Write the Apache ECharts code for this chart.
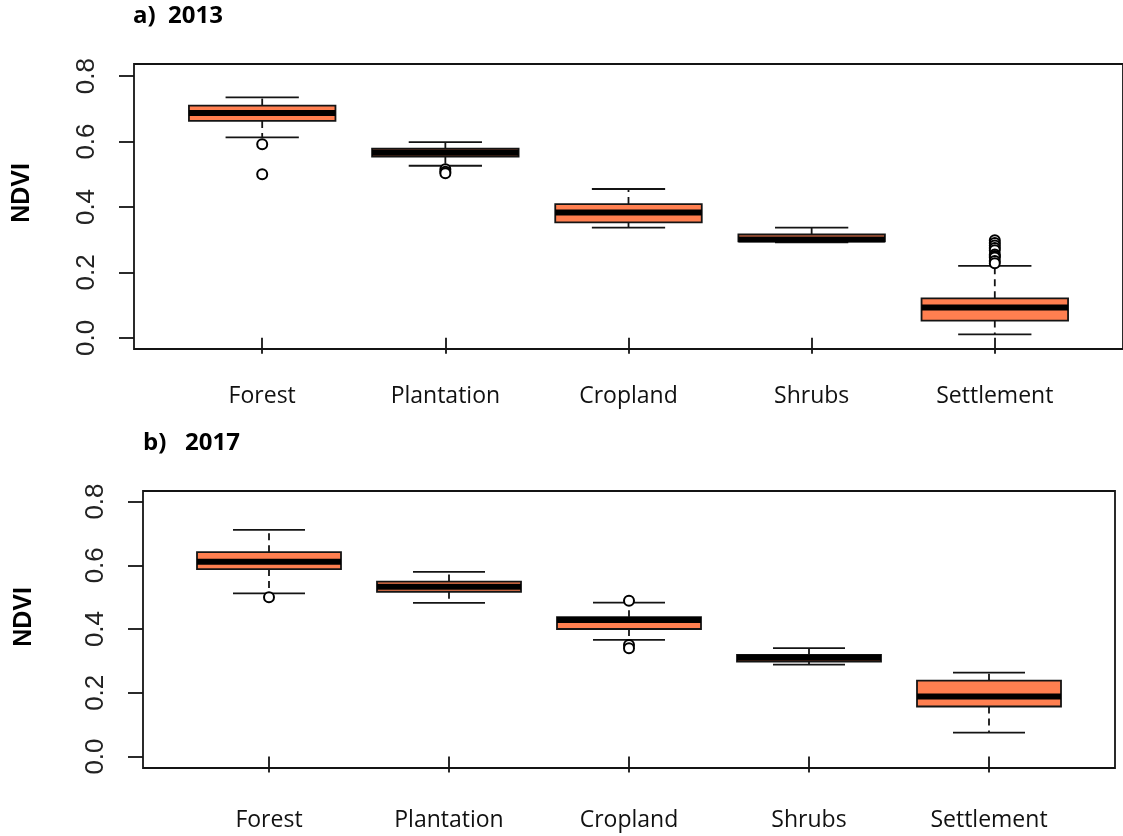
<!DOCTYPE html>
<html>
<head>
<meta charset="utf-8">
<title>NDVI by land cover, 2013 and 2017</title>
<script src="https://cdn.jsdelivr.net/npm/echarts@6/dist/echarts.min.js"></script>
<style>
  html, body { margin: 0; padding: 0; background: #fff; }
  #chart { width: 1123px; height: 836px; }
</style>
</head>
<body>
<div id="chart"></div>
<script>
// Land-cover classes on the x axis
const categories = ['Forest', 'Plantation', 'Cropland', 'Shrubs', 'Settlement'];
const yTicks = [0.0, 0.2, 0.4, 0.6, 0.8];

// 2013 box statistics (lower whisker, Q1, median, Q3, upper whisker)
const low2013 = [0.613, 0.526, 0.337, 0.292, 0.011];
const q1_2013 = [0.663, 0.554, 0.353, 0.295, 0.053];
const med2013 = [0.687, 0.566, 0.383, 0.301, 0.093];
const q3_2013 = [0.710, 0.578, 0.409, 0.316, 0.121];
const high2013 = [0.735, 0.598, 0.455, 0.337, 0.220];
const outliers2013 = [
  [0.592, 0.500],
  [0.515, 0.508, 0.503],
  [],
  [],
  [0.298, 0.290, 0.282, 0.275, 0.268, 0.255, 0.250, 0.246, 0.235, 0.228]
];

// 2017 box statistics
const low2017 = [0.512, 0.482, 0.366, 0.288, 0.075];
const q1_2017 = [0.588, 0.517, 0.400, 0.298, 0.157];
const med2017 = [0.611, 0.533, 0.428, 0.310, 0.188];
const q3_2017 = [0.641, 0.549, 0.437, 0.319, 0.238];
const high2017 = [0.711, 0.579, 0.483, 0.340, 0.263];
const outliers2017 = [
  [0.500],
  [],
  [0.489, 0.350, 0.340],
  [],
  []
];

const BOX_FILL = '#FF7F50';
const INK = '#141414';
const BOX_HALF = 0.4;   // half box width in x units
const CAP_HALF = 0.2;   // half whisker-cap width in x units

function boxRows(low, q1, med, q3, high) {
  return categories.map((c, i) => [i + 1, low[i], q1[i], med[i], q3[i], high[i]]);
}
function outlierPoints(list) {
  const pts = [];
  list.forEach((vals, i) => vals.forEach(v => pts.push([i + 1, v])));
  return pts;
}

function renderBox(params, api) {
  const x = api.value(0);
  const low = api.value(1), q1 = api.value(2), med = api.value(3), q3 = api.value(4), high = api.value(5);
  const c = api.coord([x, med]);
  const pLow = api.coord([x, low]);
  const pQ1 = api.coord([x, q1]);
  const pQ3 = api.coord([x, q3]);
  const pHigh = api.coord([x, high]);
  const left = api.coord([x - BOX_HALF, med])[0];
  const right = api.coord([x + BOX_HALF, med])[0];
  const capL = api.coord([x - CAP_HALF, med])[0];
  const capR = api.coord([x + CAP_HALF, med])[0];
  const cx = c[0];
  const dashed = { stroke: INK, lineWidth: 1.8, lineDash: [7, 5] };
  const solid = { stroke: INK, lineWidth: 1.8 };
  return {
    type: 'group',
    children: [
      { type: 'line', shape: { x1: cx, y1: pQ3[1], x2: cx, y2: pHigh[1] }, style: dashed },
      { type: 'line', shape: { x1: cx, y1: pQ1[1], x2: cx, y2: pLow[1] }, style: dashed },
      { type: 'line', shape: { x1: capL, y1: pHigh[1], x2: capR, y2: pHigh[1] }, style: solid },
      { type: 'line', shape: { x1: capL, y1: pLow[1], x2: capR, y2: pLow[1] }, style: solid },
      { type: 'rect', shape: { x: left, y: pQ3[1], width: right - left, height: pQ1[1] - pQ3[1] },
        style: { fill: BOX_FILL, stroke: INK, lineWidth: 1.8 } },
      { type: 'line', shape: { x1: left, y1: c[1], x2: right, y2: c[1] },
        style: { stroke: '#000', lineWidth: 6 } }
    ]
  };
}

function xAxisCfg(gridIndex, labelMargin) {
  return {
    gridIndex, type: 'value', min: 0.3, max: 5.7,
    axisLine: { show: false },
    splitLine: { show: false },
    axisTick: { show: true, length: 16, customValues: [1, 2, 3, 4, 5],
      lineStyle: { color: INK, width: 1.8 } },
    axisLabel: { customValues: [1, 2, 3, 4, 5], margin: labelMargin,
      formatter: v => categories[Math.round(v) - 1] || '',
      fontFamily: 'Open Sans', fontSize: 23, color: '#111' }
  };
}
function yAxisCfg(gridIndex, min, max) {
  return {
    gridIndex, type: 'value', min, max,
    axisLine: { show: false },
    splitLine: { show: false },
    axisTick: { show: true, length: 15, customValues: yTicks,
      lineStyle: { color: INK, width: 1.8 } },
    axisLabel: { customValues: yTicks, rotate: 90, margin: 34,
      formatter: v => v.toFixed(1),
      fontFamily: 'Liberation Sans', fontSize: 26, color: '#222' }
  };
}

const chart = echarts.init(document.getElementById('chart'), null, { renderer: 'canvas' });
chart.setOption({
  backgroundColor: '#fff',
  animation: false,
  grid: [
    { left: 134, top: 64, width: 991, height: 285, show: true, borderColor: INK, borderWidth: 1.8 },
    { left: 143, top: 491, width: 972, height: 277, show: true, borderColor: INK, borderWidth: 1.8 }
  ],
  xAxis: [xAxisCfg(0, 36), xAxisCfg(1, 41)],
  yAxis: [yAxisCfg(0, -0.034, 0.837), yAxisCfg(1, -0.036, 0.833)],
  graphic: [
    { type: 'text', left: 133, top: 4,
      style: { text: 'a)  2013', fontFamily: 'Open Sans', fontWeight: 'bold', fontSize: 24, fill: '#000' } },
    { type: 'text', left: 143, top: 431,
      style: { text: 'b)   2017', fontFamily: 'Open Sans', fontWeight: 'bold', fontSize: 24, fill: '#000' } },
    { type: 'text', x: 22, y: 193, rotation: Math.PI / 2,
      style: { text: 'NDVI', fontFamily: 'Liberation Sans', fontWeight: 'bold', fontSize: 25, fill: '#000',
        align: 'center', verticalAlign: 'middle' } },
    { type: 'text', x: 24, y: 617, rotation: Math.PI / 2,
      style: { text: 'NDVI', fontFamily: 'Liberation Sans', fontWeight: 'bold', fontSize: 25, fill: '#000',
        align: 'center', verticalAlign: 'middle' } }
  ],
  series: [
    { type: 'custom', name: '2013', xAxisIndex: 0, yAxisIndex: 0,
      renderItem: renderBox, data: boxRows(low2013, q1_2013, med2013, q3_2013, high2013), z: 2 },
    { type: 'scatter', name: '2013 outliers', xAxisIndex: 0, yAxisIndex: 0,
      symbol: 'emptyCircle', symbolSize: 10,
      itemStyle: { color: '#000', borderColor: '#000', borderWidth: 1.6, opacity: 1 },
      data: outlierPoints(outliers2013), z: 3 },
    { type: 'custom', name: '2017', xAxisIndex: 1, yAxisIndex: 1,
      renderItem: renderBox, data: boxRows(low2017, q1_2017, med2017, q3_2017, high2017), z: 2 },
    { type: 'scatter', name: '2017 outliers', xAxisIndex: 1, yAxisIndex: 1,
      symbol: 'emptyCircle', symbolSize: 10,
      itemStyle: { color: '#000', borderColor: '#000', borderWidth: 1.6, opacity: 1 },
      data: outlierPoints(outliers2017), z: 3 }
  ]
});
</script>
</body>
</html>
